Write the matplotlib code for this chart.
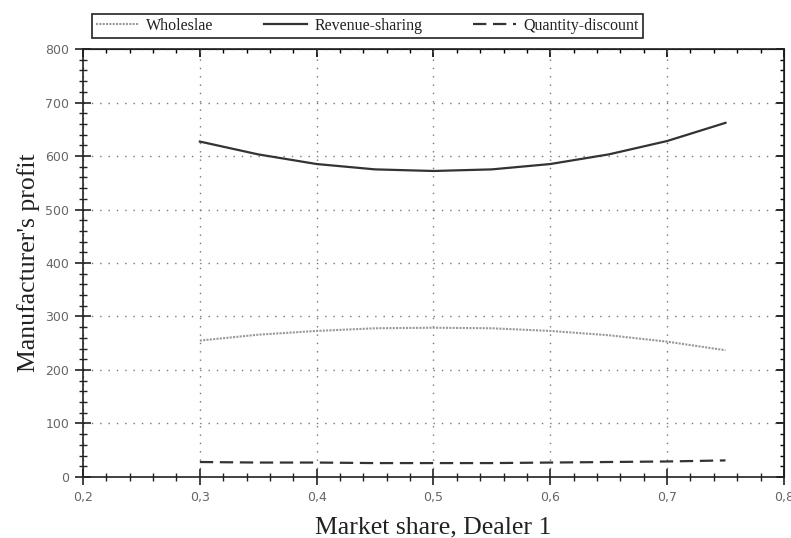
import matplotlib.pyplot as plt
from matplotlib.ticker import MultipleLocator, FuncFormatter

# Data
share = [0.30, 0.35, 0.40, 0.45, 0.50, 0.55, 0.60, 0.65, 0.70, 0.75]
wholesale = [255, 266, 273, 278, 279, 278, 273, 265, 253, 237]
revenue_sharing = [627, 603, 585, 575, 572, 575, 585, 603, 628, 662]
quantity_discount = [28, 27, 27, 26, 26, 26, 27, 28, 29, 31]

fig = plt.figure(figsize=(7.91, 5.38), dpi=100)
ax = fig.add_axes([0.105, 0.1134, 0.886, 0.7955])

ax.plot(share, wholesale, color="#999999", linestyle=(0, (1, 0.6)), lw=1.5,
        label="Wholeslae")
ax.plot(share, revenue_sharing, color="#333333", linestyle="-", lw=1.6,
        label="Revenue-sharing")
ax.plot(share, quantity_discount, color="#333333", linestyle=(0, (6, 3)),
        lw=1.6, label="Quantity-discount")

ax.set_xlim(0.2, 0.8)
ax.set_ylim(0, 800)
ax.xaxis.set_major_locator(MultipleLocator(0.1))
ax.xaxis.set_minor_locator(MultipleLocator(0.02))
ax.yaxis.set_major_locator(MultipleLocator(100))
ax.yaxis.set_minor_locator(MultipleLocator(20))
ax.xaxis.set_major_formatter(FuncFormatter(lambda v, p: f"{v:.1f}".replace(".", ",")))

ax.grid(True, which="major", color="#777777", linestyle=(0, (1, 5)), lw=1.0)

for s in ax.spines.values():
    s.set_linewidth(1.2)
    s.set_color("#222222")

ax.tick_params(which="major", direction="inout", length=12, width=1.2,
               color="#222222", labelsize=9, labelcolor="#666666", pad=4)
ax.tick_params(which="minor", direction="inout", length=6, width=1.0,
               color="#222222")

# inward ticks on top and right
top = ax.secondary_xaxis("top")
top.xaxis.set_major_locator(MultipleLocator(0.1))
top.xaxis.set_minor_locator(MultipleLocator(0.02))
top.tick_params(which="major", direction="in", length=6, width=1.2, labeltop=False)
top.tick_params(which="minor", direction="in", length=3, width=1.0)
right = ax.secondary_yaxis("right")
right.yaxis.set_major_locator(MultipleLocator(100))
right.yaxis.set_minor_locator(MultipleLocator(20))
right.tick_params(which="major", direction="in", length=6, width=1.2, labelright=False)
right.tick_params(which="minor", direction="in", length=3, width=1.0)

ax.set_xlabel("Market share, Dealer 1", fontfamily="Liberation Serif",
              fontsize=18.5, color="#222222", labelpad=9)
ax.set_ylabel("Manufacturer's profit", fontfamily="Liberation Serif",
              fontsize=18.5, color="#222222", labelpad=4)

leg = fig.legend(loc="lower left", bbox_to_anchor=(92 / 791, 1 - 38 / 538, 551 / 791, 24 / 538),
                 ncol=3, mode="expand", frameon=True, fancybox=False,
                 edgecolor="#222222", framealpha=1,
                 prop={"family": "Liberation Serif", "size": 11.5},
                 handlelength=2.7, handletextpad=0.45, borderpad=0.25,
                 borderaxespad=0)
leg.get_frame().set_linewidth(1.2)
for t in leg.get_texts():
    t.set_color("#222222")

fig.savefig("out.png", dpi=100)
